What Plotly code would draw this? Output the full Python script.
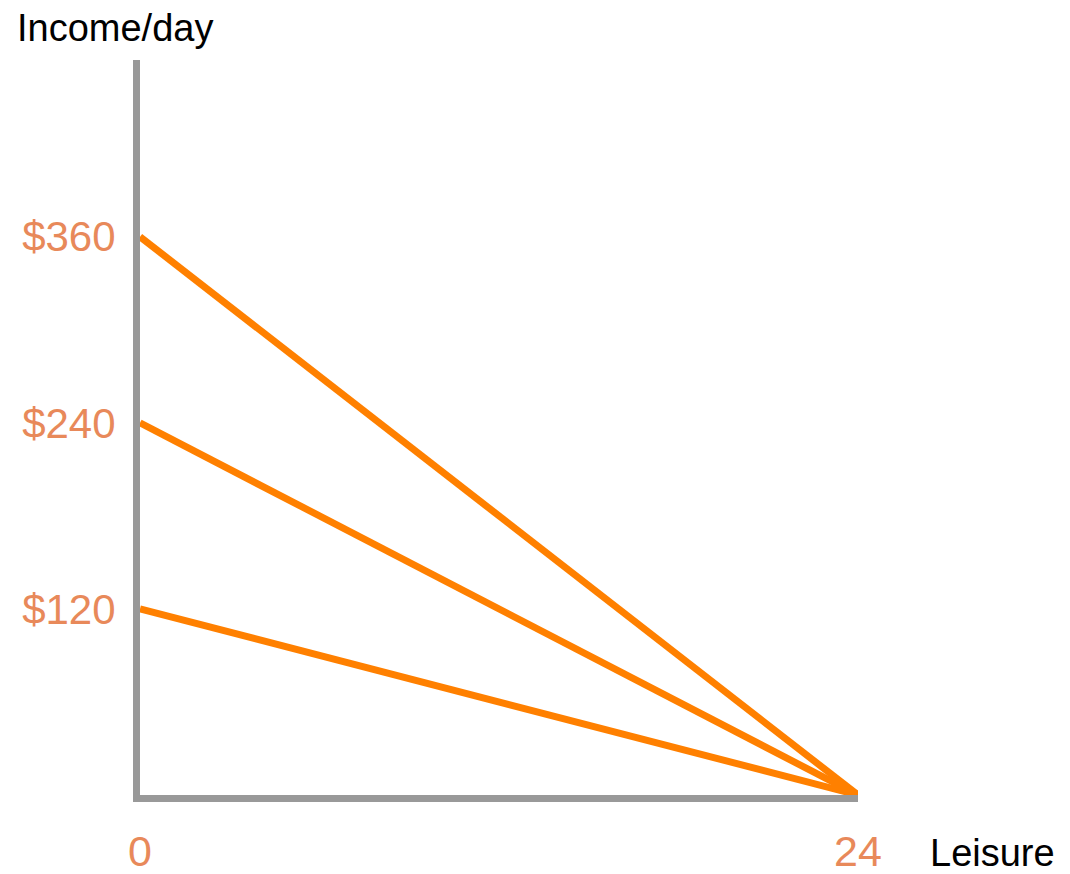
import plotly.graph_objects as go

# Data
leisure_hours = [0, 24]
income_intercepts = [120, 240, 360]  # daily income at 0 leisure hours
ytick_vals = [120, 240, 360]
ytick_text = ["$120", "$240", "$360"]
xtick_vals = [0, 24]
xtick_text = ["0", "24"]

FONT = "Liberation Sans, Arial, sans-serif"
ORANGE = "#FF8000"
LABEL = "#E8895A"
GRAY = "#999999"

fig = go.Figure()
for inc in income_intercepts:
    fig.add_trace(go.Scatter(
        x=leisure_hours, y=[inc, 0], mode="lines",
        line=dict(color=ORANGE, width=7), showlegend=False, hoverinfo="skip"))

fig.update_layout(
    width=1062, height=866,
    margin=dict(l=132, r=212, t=52, b=79),
    paper_bgcolor="white", plot_bgcolor="white",
    font=dict(family=FONT),
    xaxis=dict(range=[0, 24], showgrid=False, zeroline=False, automargin=False,
               showline=True, linecolor=GRAY, linewidth=7,
               tickvals=xtick_vals, ticktext=xtick_text, ticks="",
               ticklabelstandoff=12,
               tickfont=dict(size=43, color=LABEL, family=FONT)),
    yaxis=dict(range=[0, 474], showgrid=False, zeroline=False, automargin=False,
               showline=True, linecolor=GRAY, linewidth=7,
               tickvals=ytick_vals, ticktext=ytick_text, ticks="",
               ticklabelstandoff=9,
               tickfont=dict(size=42, color=LABEL, family=FONT)),
    annotations=[
        dict(text="Income/day", xref="paper", yref="paper", x=-0.174, y=1.075,
             xanchor="left", yanchor="top", showarrow=False,
             font=dict(size=38, color="black", family=FONT)),
        dict(text="Leisure", xref="paper", yref="paper", x=1.0975, y=-0.079,
             xanchor="left", yanchor="middle", showarrow=False,
             font=dict(size=38, color="black", family=FONT)),
    ],
)

fig.write_html("out.html")
